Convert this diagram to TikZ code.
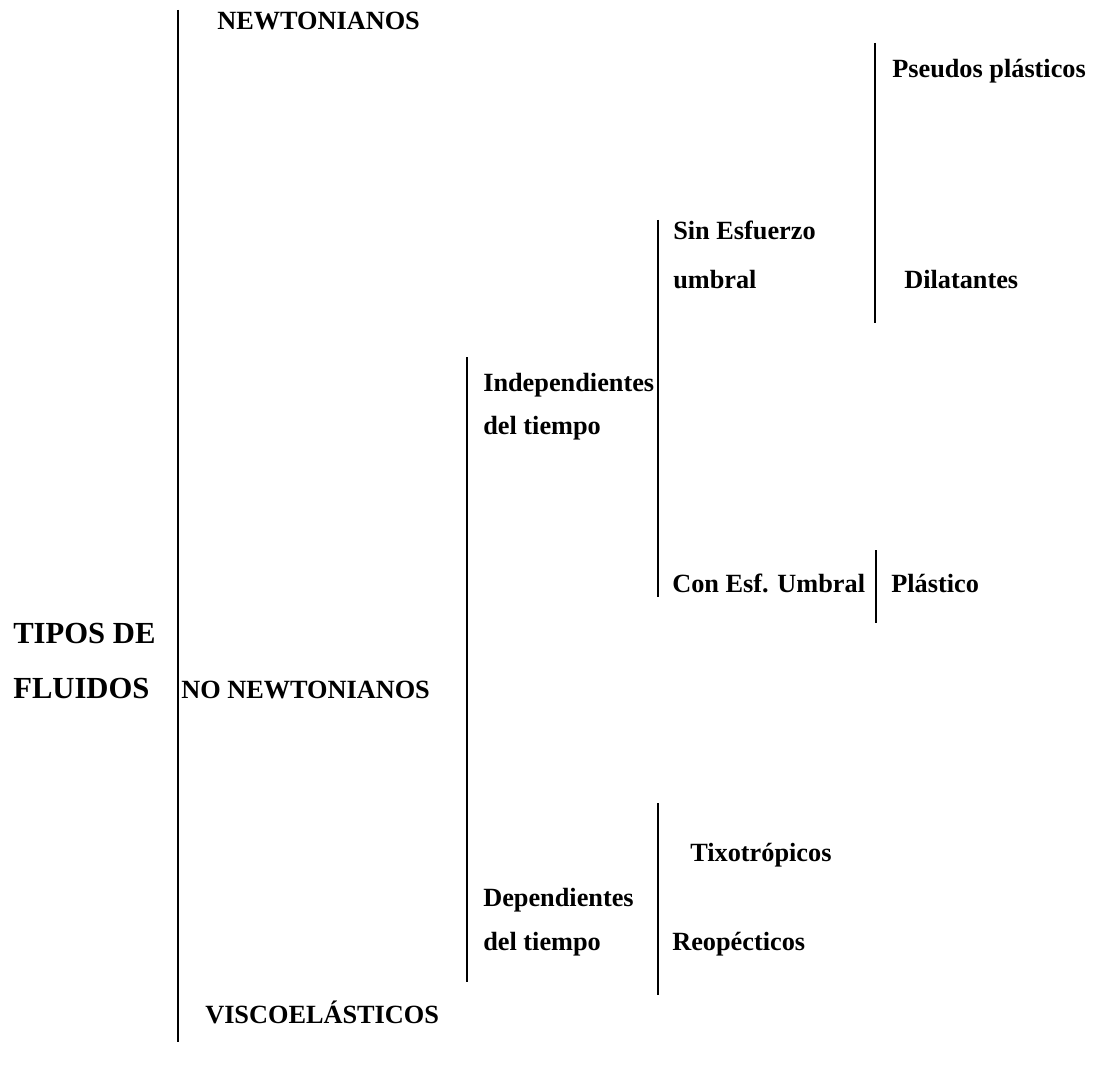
\documentclass[tikz,border=0pt]{standalone}
\usepackage{fontspec}
\setmainfont{Liberation Serif}
\usepackage{tikz}
\tikzstyle{item} = [anchor=base west, inner sep=0pt,
                    font=\fontsize{18.7}{22}\selectfont\bfseries]
\tikzstyle{title} = [item, font=\fontsize{21.8}{26}\selectfont\bfseries]
\tikzstyle{bar} = [line width=1.5pt]

\begin{document}
\begin{tikzpicture}[x=0.25mm, y=-0.25mm]
\useasboundingbox (0,0) rectangle (1095,1070);
%Main bracket
\draw[bar](178,10)--(178,1042);
\node[title] at (13,643) (tipos1){TIPOS DE};
\node[title] at (13,698) (tipos2){FLUIDOS};
\node[item] at (217,30) (newt){NEWTONIANOS};
\node[item] at (181,698) (nonewt){NO NEWTONIANOS};
\node[item] at (205,1023) (visco){VISCOEL\'ASTICOS};

%No newtonianos
\draw[bar](467,357)--(467,982);
\node[item] at (483,391) (indep1){Independientes};
\node[item] at (483,434) (indep2){del tiempo};
\node[item] at (483,906) (dep1){Dependientes};
\node[item] at (483,950) (dep2){del tiempo};

%Independientes del tiempo
\draw[bar](658,220)--(658,597);
\node[item] at (673,240) (sin1){Sin Esfuerzo};
\node[item] at (673,289) (sin2){umbral};
\node[item] at (672,592) (con){Con Esf. Umbral};

% Sin esfuerzo umbral
\draw[bar](875,43)--(875,323);
\node[item] at (892,78) (pseudo){Pseudos pl\'asticos};
\node[item] at (904,289) (dilat){Dilatantes};

% Con esfuerzo umbral
\draw[bar](876,550)--(876,623);
\node[item] at (891,592) (plast){Pl\'astico};

%Dependientes del tiempo
\draw[bar](658,803)--(658,995);
\node[item] at (690,861) (tixo){Tixotr\'opicos};
\node[item] at (672,950) (reo){Reop\'ecticos};

\end{tikzpicture}
\end{document}
